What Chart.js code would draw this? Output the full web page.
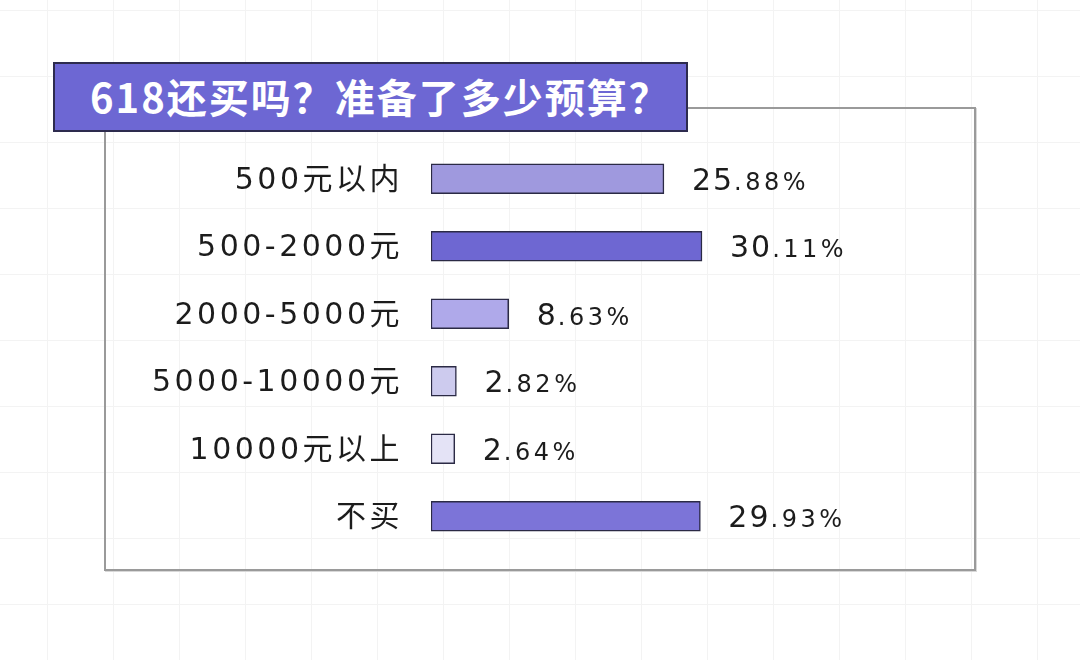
<!DOCTYPE html>
<html>
<head>
<meta charset="utf-8">
<script src="https://cdn.jsdelivr.net/npm/chart.js@4"></script>
<style>
  html, body { margin: 0; padding: 0; }
  body {
    width: 1080px; height: 660px; position: relative; overflow: hidden;
    background-color: #fff;
    background-image: linear-gradient(#f3f3f3 1px, transparent 1px),
                      linear-gradient(90deg, #f3f3f3 1px, transparent 1px);
    background-size: 66px 66px;
    background-position: 47px 10px;
  }
  #panel {
    position: absolute; left: 104px; top: 107px; width: 868px; height: 460px;
    border: 2px solid #9a9a9a;
    box-shadow: 1px 1px 0 #d8d8d8;
  }
  #chart { position: absolute; left: 0; top: 0; }
  #title {
    position: absolute; left: 53px; top: 62px; width: 635px; height: 70px;
    box-sizing: border-box; background: #6d67d3; border: 2px solid #2d2b4e;
    color: #fff; font: bold 40px "Noto Sans CJK SC", "Liberation Sans", sans-serif;
    letter-spacing: 2px; padding-left: 35px; line-height: 64px; white-space: nowrap;
  }
</style>
</head>
<body>
<div id="panel"></div>
<canvas id="chart" width="1080" height="660"></canvas>
<div id="title">618还买吗？准备了多少预算？</div>
<script>
var categories = ["500元以内", "500-2000元", "2000-5000元", "5000-10000元", "10000元以上", "不买"];
var shares = [25.88, 30.11, 8.63, 2.82, 2.64, 29.93];
var barColors = ["#9f99de", "#6e67d2", "#afa9ea", "#cdcbee", "#e4e3f6", "#7c74d8"];
var fontFamily = '"DejaVu Sans", "Noto Sans CJK SC", sans-serif';

var spacingPlugin = {
    id: "spacing",
    beforeDraw: function (chart) {
        chart.ctx.letterSpacing = "3.5px";
    }
};

var valueLabels = {
    id: "valueLabels",
    afterDatasetsDraw: function (chart) {
        var ctx = chart.ctx;
        var meta = chart.getDatasetMeta(0);
        ctx.save();
        ctx.fillStyle = "#1c1c1c";
        ctx.textAlign = "left";
        ctx.textBaseline = "alphabetic";
        meta.data.forEach(function (bar, i) {
            var parts = shares[i].toFixed(2).split(".");
            var x = bar.x + 28;
            var y = bar.y + 11;
            ctx.letterSpacing = "2px";
            ctx.font = "30px " + fontFamily;
            ctx.fillText(parts[0], x, y);
            x += ctx.measureText(parts[0]).width;
            ctx.letterSpacing = "3.5px";
            ctx.font = "24px " + fontFamily;
            ctx.fillText("." + parts[1] + "%", x, y);
        });
        ctx.restore();
    }
};

var ctx = document.getElementById("chart").getContext("2d");
var chart = new Chart(ctx, {
    type: "bar",
    data: {
        labels: categories,
        datasets: [
            {
                data: shares,
                backgroundColor: barColors,
                borderColor: "#2b2a45",
                borderWidth: 1.5,
                borderSkipped: false,
                barThickness: 30
            }
        ]
    },
    options: {
        indexAxis: "y",
        responsive: false,
        animation: false,
        layout: { padding: { top: 145, bottom: 110, left: 0, right: 199 } },
        plugins: { legend: { display: false }, tooltip: { enabled: false } },
        scales: {
            x: { display: false, min: 0, max: 50 },
            y: {
                grid: { display: false, drawTicks: false },
                border: { display: false },
                ticks: {
                    color: "#1c1c1c",
                    padding: 28,
                    labelOffset: 2,
                    font: { size: 30, family: fontFamily }
                },
                afterFit: function (scale) { scale.width = 431; }
            }
        }
    },
    plugins: [spacingPlugin, valueLabels]
});
</script>
</body>
</html>
